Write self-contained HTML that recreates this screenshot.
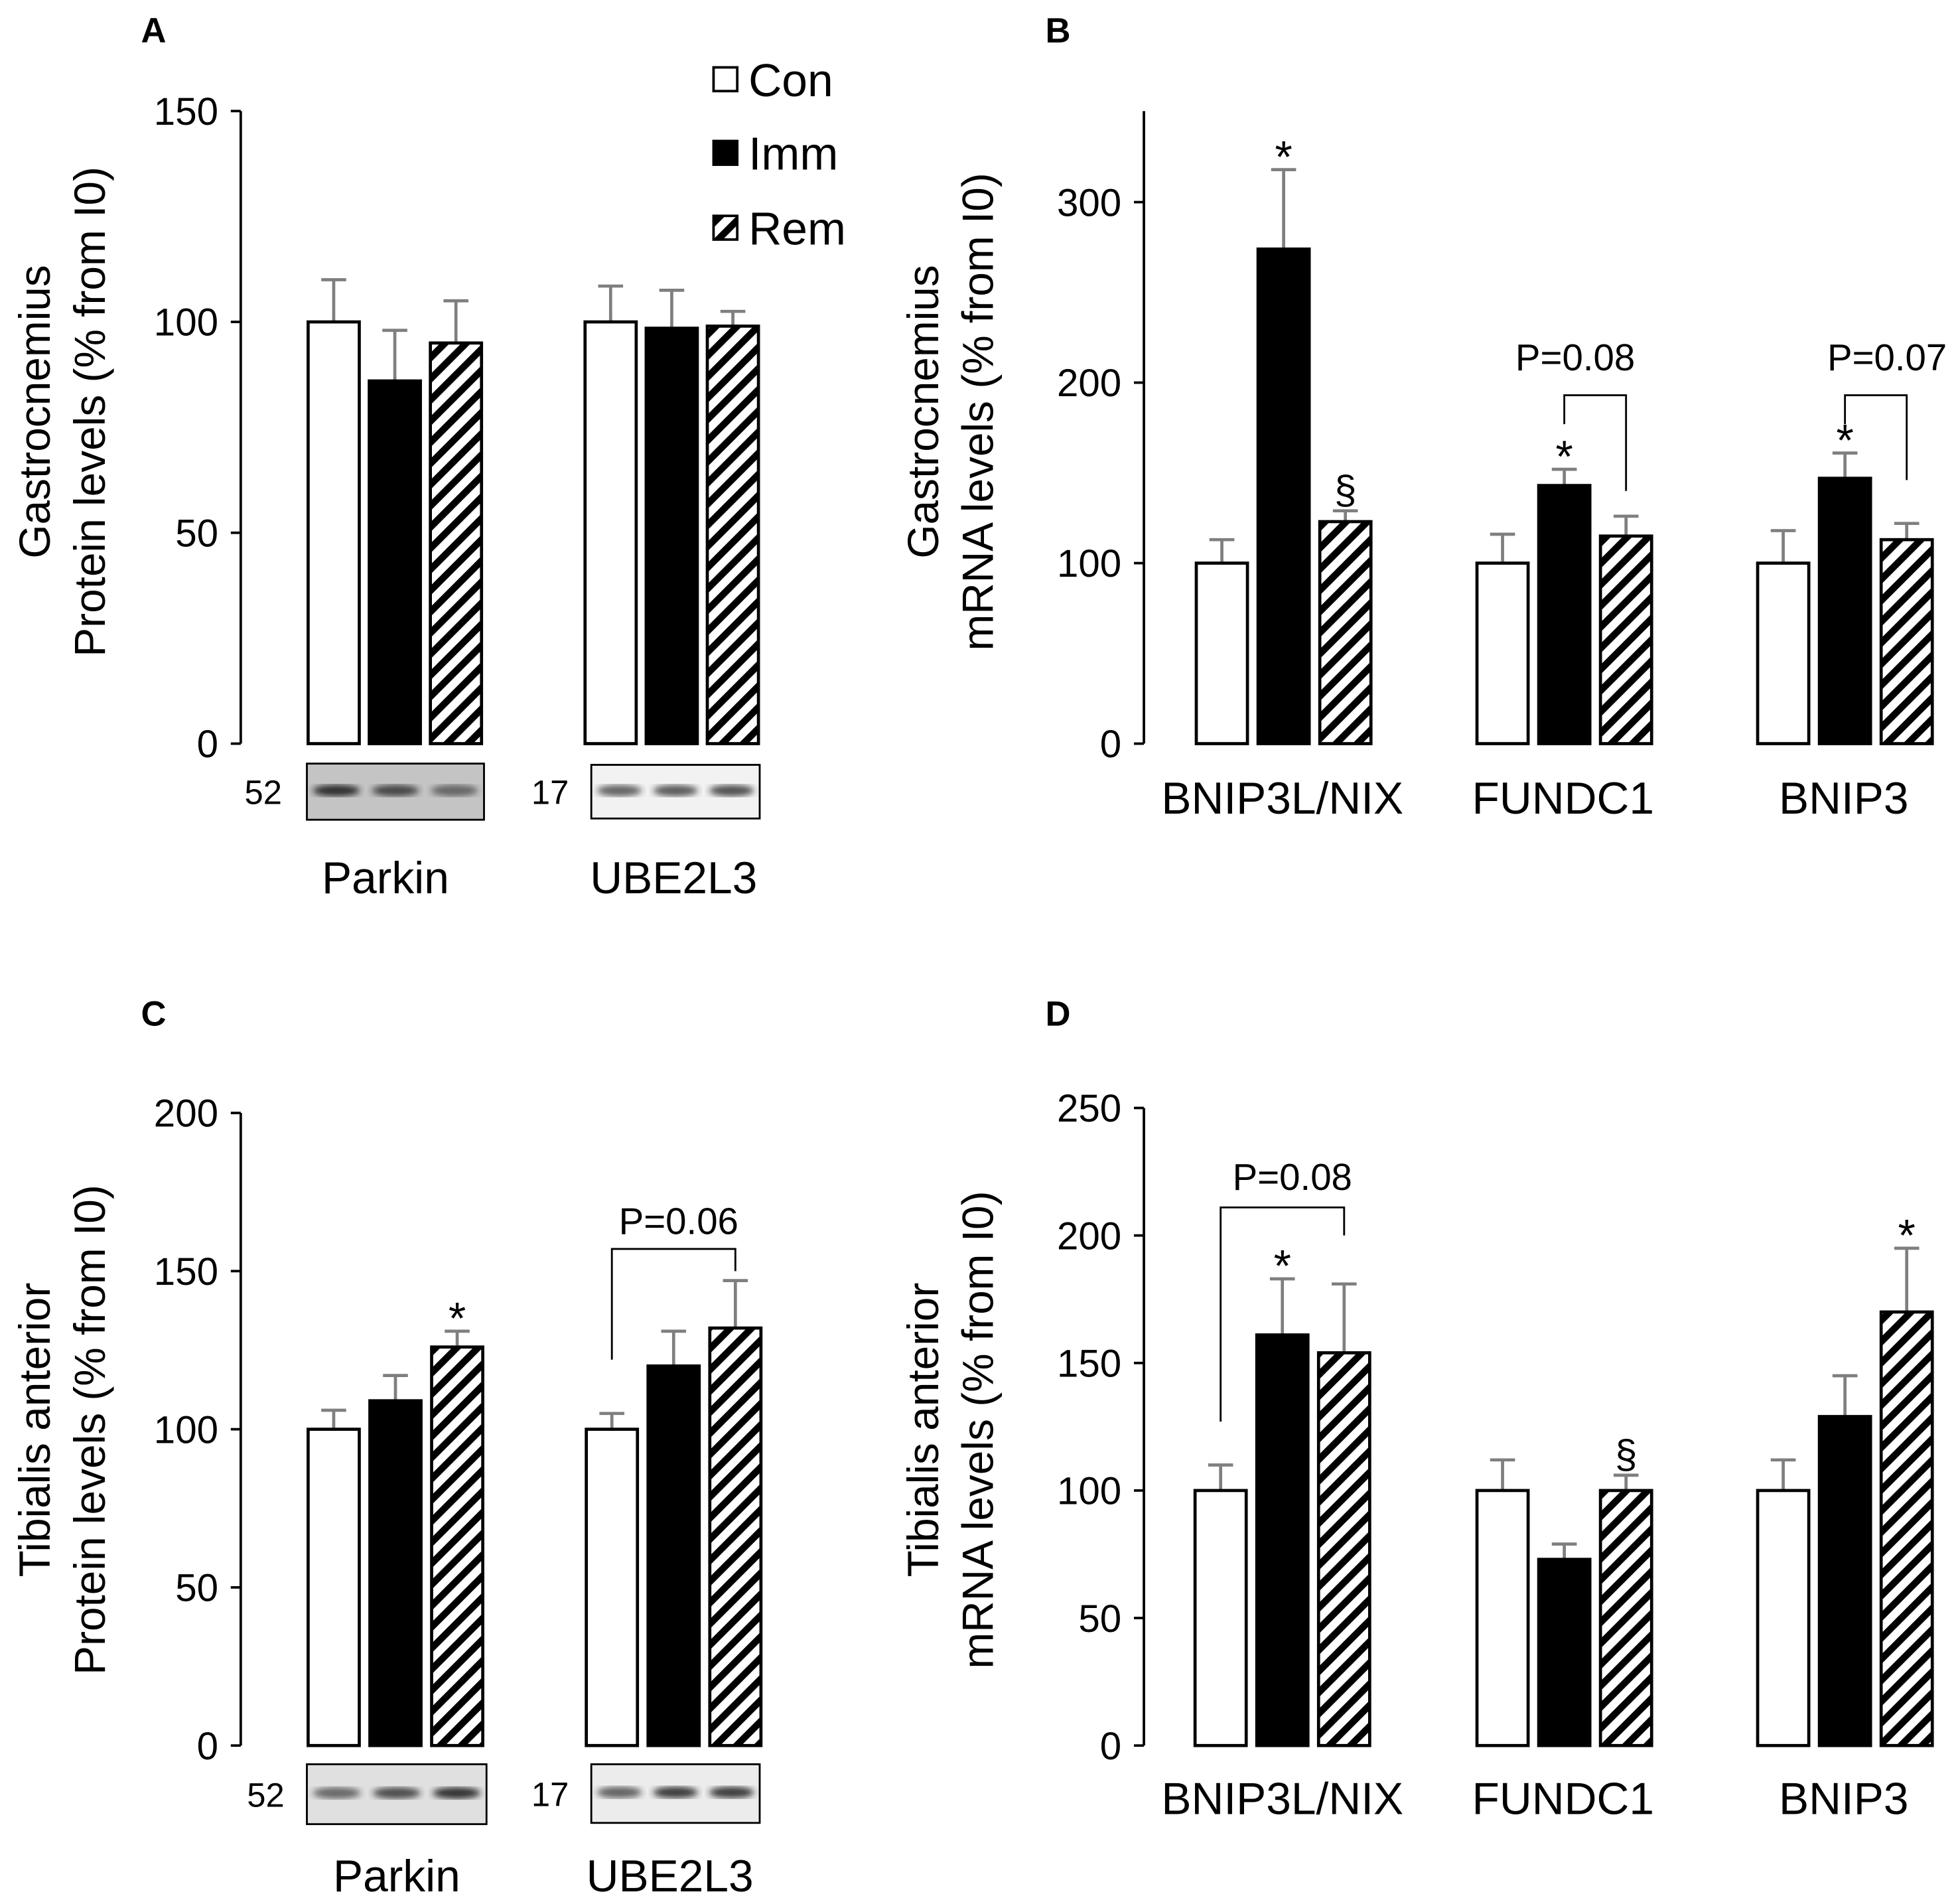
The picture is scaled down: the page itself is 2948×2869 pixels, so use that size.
<!DOCTYPE html>
<html><head><meta charset="utf-8"><style>
html,body{margin:0;padding:0;background:#fff}
svg{display:block}
text{font-family:"Liberation Sans",Arial,sans-serif;fill:#000}
</style></head><body>
<svg id="fig" width="2948" height="2869" viewBox="0 0 1568 1526" xmlns="http://www.w3.org/2000/svg">
<defs>
<pattern id="hatch" patternUnits="userSpaceOnUse" width="12" height="12" patternTransform="rotate(45)">
<rect x="0" y="0" width="12" height="12" fill="#fff"/><rect x="0" y="0" width="5.5" height="12" fill="#000"/>
</pattern>
<filter id="blur"><feGaussianBlur stdDeviation="2.5"/></filter>
</defs>
<g id="root"></g>
</svg>
<script>
// Panel A: Gastrocnemius protein
const aCategories = ["Parkin","UBE2L3"];
const aCon = [100,100], aImm = [86,98.5], aRem = [95,99];
const aConErr = [110,108.5], aImmErr = [98,107.5], aRemErr = [105,102.5];
const aTicks = [0,50,100,150];
// Panel B: Gastrocnemius mRNA
const bCategories = ["BNIP3L/NIX","FUNDC1","BNIP3"];
const bCon = [100,100,100], bImm = [274,143,147], bRem = [123,115,113];
const bConErr = [113,116,118], bImmErr = [318,152,161], bRemErr = [129,126,122];
const bTicks = [0,100,200,300];
// Panel C: Tibialis anterior protein
const cCategories = ["Parkin","UBE2L3"];
const cCon = [100,100], cImm = [109,120], cRem = [126,132];
const cConErr = [106,105], cImmErr = [117,131], cRemErr = [131,147];
const cTicks = [0,50,100,150,200];
// Panel D: Tibialis anterior mRNA
const dCategories = ["BNIP3L/NIX","FUNDC1","BNIP3"];
const dCon = [100,100,100], dImm = [161,73,129], dRem = [154,100,170];
const dConErr = [110,112,112], dImmErr = [183,79,145], dRemErr = [181,106,195];
const dTicks = [0,50,100,150,200,250];

const NS="http://www.w3.org/2000/svg";
const root=document.getElementById('root');
function mk(tag,attrs,parent){const e=document.createElementNS(NS,tag);for(const k in attrs)e.setAttribute(k,attrs[k]);(parent||root).appendChild(e);return e;}
function txt(s,x,y,size,anchor,parent,extra){const t=mk('text',Object.assign({x:x,y:y,'font-size':size,'text-anchor':anchor||'middle'},extra||{}),parent);t.textContent=s;return t;}

function panel(cfg){
  const g=mk('g',{});
  
  
  const y=v=>cfg.y0-(v/cfg.ymax)*(cfg.y0-cfg.ytop);
  const ax=mk('line',{x1:cfg.ax,y1:cfg.axTop,x2:cfg.ax,y2:cfg.y0,stroke:'#000','stroke-width':2},g);
  
  
  cfg.ticks.forEach(t=>{
    const l=mk('line',{x1:cfg.ax-8,y1:y(t),x2:cfg.ax,y2:y(t),stroke:'#000','stroke-width':2},g);
    
    
    const tl=txt(String(t),cfg.ax-18,y(t)+11,31,'end',g);
    
    
  });
  const series=[[cfg.con,cfg.conErr,'#fff'],[cfg.imm,cfg.immErr,'#000'],[cfg.rem,cfg.remErr,'url(#hatch)']];
  cfg.cats.forEach((c,i)=>{
    series.forEach((s,j)=>{
      const x=cfg.gx[i]+j*cfg.step;
      const v=s[0][i], e=s[1][i];
      const eb=mk('path',{d:`M${x+cfg.bw/2},${y(v)} V${y(e)} M${x+cfg.bw/2-10},${y(e)} H${x+cfg.bw/2+10}`,stroke:'#7f7f7f','stroke-width':2.5,fill:'none'},g);
      
      
      const r=mk('rect',{x:x,y:y(v),width:cfg.bw,height:cfg.y0-y(v),fill:s[2],stroke:'#000','stroke-width':2.5},g);
      
      
    });
    const cl=txt(c,cfg.labX[i],cfg.labY,36,'middle',g);
    
    
  });
  const t1=txt(cfg.title[0],0,0,35,'middle',g,{transform:`translate(${cfg.tx1},${cfg.ty}) rotate(-90)`});
  
  
  const t2=txt(cfg.title[1],0,0,35,'middle',g,{transform:`translate(${cfg.tx2},${cfg.ty}) rotate(-90)`});
  
  
  const L=txt(cfg.letter,cfg.lx,cfg.ly,28,'start',g,{'font-weight':'bold'});
  
  
  (cfg.stars||[]).forEach(st=>{
    const x=cfg.gx[st[0]]+st[1]*cfg.step+cfg.bw/2;
    const e=[cfg.conErr,cfg.immErr,cfg.remErr][st[1]][st[0]];
    const s=txt(st[2],x,y(e)-6+(st[2]=='*'?8:0),st[2]=='*'?36:32,'middle',g);
    
    
  });
  (cfg.brackets||[]).forEach(b=>{
    const x1=cfg.gx[b.g]+b.a*cfg.step+cfg.bw/2, x2=cfg.gx[b.g]+b.b*cfg.step+cfg.bw/2;
    const p=mk('path',{d:`M${x1},${y(b.y1)} V${y(b.top)} H${x2} V${y(b.y2)}`,stroke:'#000','stroke-width':1.5,fill:'none'},g);
    
    
    const t=txt(b.label,(x1+x2)/2+(b.dx||0),y(b.top)-(b.ly||20),30,'middle',g);
    
    
  });
  return g;
}
function blot(x,y,w,h,bg,bands,label,lx){
  const g=mk('g',{});
  
  
  mk('rect',{x:x,y:y,width:w,height:h,fill:bg,stroke:'#000','stroke-width':1.5},g);
  bands.forEach((b,i)=>{mk('ellipse',{cx:x+w*(i*2+1)/6,cy:y+h*0.48,rx:w/7.5,ry:4.5,fill:'#222',opacity:b,filter:'url(#blur)'},g);});
  const t=txt(label,lx,y+h/2+10,27,'middle',g);
  
  
}

panel({name:'panel-a',letter:'A',lx:113,ly:34,ax:193,y0:596,ytop:89,axTop:89,ymax:150,ticks:aTicks,cats:aCategories,
  con:aCon,imm:aImm,rem:aRem,conErr:aConErr,immErr:aImmErr,remErr:aRemErr,gx:[247,469],step:49,bw:41,labX:[309,540],labY:716,
  title:['Gastrocnemius','Protein levels (% from I0)'],tx1:40,tx2:84,ty:330});
panel({name:'panel-b',letter:'B',lx:838,ly:34,ax:917,y0:596,ytop:162,axTop:89,ymax:300,ticks:bTicks,cats:bCategories,
  con:bCon,imm:bImm,rem:bRem,conErr:bConErr,immErr:bImmErr,remErr:bRemErr,gx:[959,1184,1409],step:49.5,bw:41,labX:[1028,1253,1478],labY:652,
  title:['Gastrocnemius','mRNA levels (% from I0)'],tx1:752,tx2:796,ty:330,
  stars:[[0,1,'*'],[0,2,'§'],[1,1,'*'],[2,1,'*']],
  brackets:[{g:1,a:1,b:2,y1:177,top:193,y2:140,label:'P=0.08',dx:-16,ly:20},{g:2,a:1,b:2,y1:177,top:193,y2:146,label:'P=0.07',dx:9,ly:20}]});
panel({name:'panel-c',letter:'C',lx:113,ly:822,ax:193,y0:1399,ytop:892,axTop:892,ymax:200,ticks:cTicks,cats:cCategories,
  con:cCon,imm:cImm,rem:cRem,conErr:cConErr,immErr:cImmErr,remErr:cRemErr,gx:[247,470],step:49.5,bw:41,labX:[318,537],labY:1516,
  title:['Tibialis anterior','Protein levels (% from I0)'],tx1:40,tx2:84,ty:1146,
  stars:[[0,2,'*']],
  brackets:[{g:1,a:0,b:2,y1:122,top:157,y2:150,label:'P=0.06',dx:4,ly:12}]});
panel({name:'panel-d',letter:'D',lx:838,ly:822,ax:917,y0:1399,ytop:888,axTop:888,ymax:250,ticks:dTicks,cats:dCategories,
  con:dCon,imm:dImm,rem:dRem,conErr:dConErr,immErr:dImmErr,remErr:dRemErr,gx:[958,1184,1409],step:49.5,bw:41,labX:[1028,1253,1478],labY:1454,
  title:['Tibialis anterior','mRNA levels (% from I0)'],tx1:752,tx2:796,ty:1146,
  stars:[[0,1,'*'],[1,2,'§'],[2,2,'*']],
  brackets:[{g:0,a:0,b:2,y1:127,top:211,y2:200,label:'P=0.08',dx:8,ly:14}]});

blot(246,612,142,45,'#c4c4c4',[0.95,0.8,0.6],'52',211);
blot(474,613,135,43,'#f2f2f2',[0.7,0.75,0.8],'17',441);
blot(246,1414,144,48,'#e0e0e0',[0.65,0.8,0.95],'52',213);
blot(474,1414,135,47,'#ececec',[0.7,0.9,0.9],'17',441);

// legend
const leg=[['Con','#fff',64],['Imm','#000',123],['Rem','url(#hatch)',183]];
leg.forEach(l=>{
  const g=mk('g',{});
  
  
  mk('rect',{x:572,y:l[2]-10,width:19,height:19,fill:l[1],stroke:'#000','stroke-width':2},g);
  txt(l[0],600,l[2]+13,37,'start',g);
});
</script>
</body></html>
